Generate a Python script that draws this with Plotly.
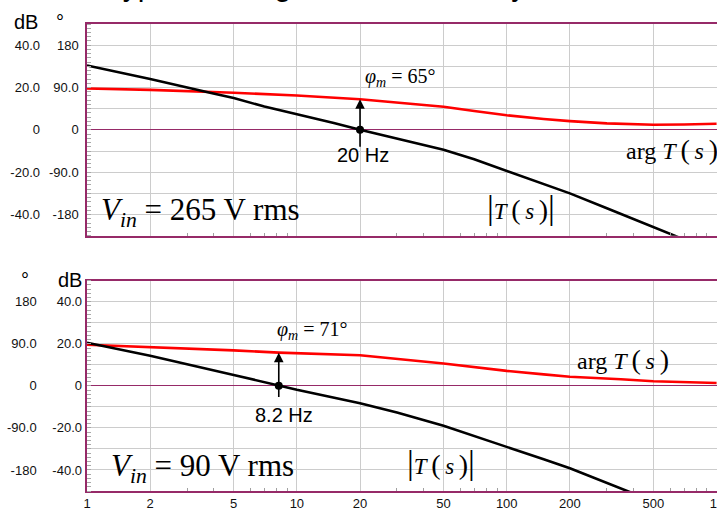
import numpy as np
import plotly.graph_objects as go

# ---- loop gain at high line (265 V rms) ----
f_mag_hi = [1, 2, 4, 5, 7, 10, 15, 20, 30, 50, 70, 100, 150, 200, 300, 500, 700]
mag_hi = [30.4, 24.0, 17.2, 15.0, 11.0, 7.4, 3.2, 0.0, -4.3, -9.4, -13.9, -19.3, -25.5, -30.0, -37.0, -45.9, -51.8]
f_ph_hi = [1, 2, 5, 10, 20, 30, 50, 70, 100, 150, 200, 300, 500, 700, 1000]
ph_hi = [88, 85, 79, 73, 65, 58, 49, 40, 31, 23, 18.5, 13.8, 10.8, 11.5, 13]

# ---- loop gain at low line (90 V rms) ----
f_mag_lo = [1, 2, 5, 8.2, 10, 20, 30, 50, 70, 100, 150, 200, 300, 400]
mag_lo = [20.5, 14.3, 5.2, 0.0, -1.9, -8.3, -12.7, -19.0, -23.8, -28.9, -34.9, -39.2, -46.2, -51.1]
f_ph_lo = [1, 2, 5, 8.2, 20, 50, 70, 100, 150, 200, 350, 500, 1000]
ph_lo = [88, 83, 76, 71, 65.5, 48, 40, 32, 24.5, 19.5, 14, 10, 6]

# crossover frequency (Hz) and phase margin (deg)
fc_hi, pm_hi = 20, 65
fc_lo, pm_lo = 8.2, 71

# axis ticks
x_ticks = [1, 2, 5, 10, 20, 50, 100, 200, 500, 1000]
x_tick_text = ["1", "2", "5", "10", "20", "50", "100", "200", "500", "1k"]
x_minor = [m * d for d in (1, 10, 100) for m in (3, 4, 6, 7, 8, 9)]
db_ticks = [-40, -20, 0, 20, 40]
db_tick_text = ["-40.0", "-20.0", "0", "20.0", "40.0"]
deg_ticks = [-180, -135, -90, -45, 0, 45, 90, 135, 180]
deg_tick_text = ["-180", "", "-90.0", "", "0", "", "90.0", "", "180"]

W, H, L = 717, 512, 87
FRAME = "#962A68"
GRID = "#cccccc"
SANS = "Arial, Liberation Sans, sans-serif"
SERIF = "Times New Roman, Liberation Serif, serif"


def px(x):
    return (x - L) / (W - L)


def py(y):
    return 1 - y / H


fig = go.Figure()

# phase curves (base axes) and magnitude curves (overlay axes)
fig.add_trace(go.Scatter(x=f_ph_hi, y=ph_hi, xaxis="x", yaxis="y", mode="lines",
                         line=dict(color="#ff0000", width=2.6)))
fig.add_trace(go.Scatter(x=f_mag_hi, y=mag_hi, xaxis="x", yaxis="y3", mode="lines",
                         line=dict(color="#000000", width=2.6)))
fig.add_trace(go.Scatter(x=[fc_hi], y=[0], xaxis="x", yaxis="y3", mode="markers",
                         marker=dict(color="#000000", size=8)))
fig.add_trace(go.Scatter(x=f_ph_lo, y=ph_lo, xaxis="x2", yaxis="y2", mode="lines",
                         line=dict(color="#ff0000", width=2.6)))
fig.add_trace(go.Scatter(x=f_mag_lo, y=mag_lo, xaxis="x2", yaxis="y4", mode="lines",
                         line=dict(color="#000000", width=2.6)))
fig.add_trace(go.Scatter(x=[fc_lo], y=[0], xaxis="x2", yaxis="y4", mode="markers",
                         marker=dict(color="#000000", size=8)))

top_dom = [py(235.7), py(24)]
bot_dom = [py(491), py(280.7)]


def xaxis(anchor, labels):
    return dict(domain=[0, 1], anchor=anchor, type="log", range=[0, 3.002],
                tickmode="array", tickvals=x_ticks, ticktext=x_tick_text,
                showticklabels=labels, ticks="", showgrid=True, gridcolor=GRID,
                gridwidth=1, zeroline=False, showline=True, linecolor=FRAME,
                linewidth=1.5, mirror=True, automargin=False,
                ticklabeloverflow="allow",
                tickfont=dict(family=SANS, size=13, color="#111"),
                minor=dict(tickmode="array", tickvals=x_minor, ticks="inside",
                           ticklen=3, tickcolor="#a0a0a0", tickwidth=1,
                           showgrid=False))


def deg_axis(domain, anchor, standoff):
    return dict(domain=domain, anchor=anchor, range=[-225, 225], tickmode="array",
                tickvals=deg_ticks, ticktext=deg_tick_text, ticks="",
                showgrid=True, gridcolor=GRID, gridwidth=1, zeroline=True,
                zerolinecolor=FRAME, zerolinewidth=1.2, showline=True,
                linecolor=FRAME, linewidth=1.5, automargin=False,
                ticklabelstandoff=standoff,
                tickfont=dict(family=SANS, size=13, color="#111"))


def db_axis(over, anchor, standoff):
    return dict(overlaying=over, anchor=anchor, side="left", range=[-50, 50],
                tickmode="array", tickvals=db_ticks, ticktext=db_tick_text,
                ticks="", showgrid=False, zeroline=True, zerolinecolor=FRAME,
                zerolinewidth=1.2, showline=False, automargin=False,
                ticklabelstandoff=standoff,
                tickfont=dict(family=SANS, size=13, color="#111"),
                minor=dict(dtick=2, ticks="inside", ticklen=4, tickwidth=1,
                           tickcolor="#a8a8a8"))


ann = []


def label(text, x, y, size, family=SANS, xanchor="center", yanchor="middle"):
    ann.append(dict(text=text, x=px(x), y=py(y), xref="paper", yref="paper",
                    xanchor=xanchor, yanchor=yanchor, showarrow=False,
                    font=dict(family=family, size=size, color="#000")))


def margin_arrow(xref, yref, fc, pm, tail):
    ann.append(dict(text="", x=np.log10(fc), y=pm, ax=np.log10(fc), ay=tail,
                    xref=xref, yref=yref, axref=xref, ayref=yref, showarrow=True,
                    arrowhead=2, arrowsize=1.2, arrowwidth=1.6, arrowcolor="#000",
                    standoff=0))


# page heading, mostly above the top edge of the page
label("Typical Voltage Control Stability", 104, -14.5, 30, xanchor="left")

# unit labels
label("dB", 25.5, 21.5, 20)
label("°", 60, 21.5, 20)
label("°", 25, 280, 20)
label("dB", 69.5, 280, 20)

# phase-margin arrows and crossover labels
margin_arrow("x", "y", fc_hi, pm_hi, -39)
margin_arrow("x2", "y2", fc_lo, pm_lo, -27)
label(f"{fc_hi:g} Hz", 363, 155, 20)
label(f"{fc_lo:g} Hz", 284, 415, 20)
label(f"<i>φ</i><sub><i>m</i></sub> = {pm_hi}°", 400, 77, 20, SERIF)
label(f"<i>φ</i><sub><i>m</i></sub> = {pm_lo}°", 312, 330, 20, SERIF)

# curve names and operating points
BAR = "<span style='font-size:34px'>|</span>"
PAR_L = "<span style='font-size:28px'>(</span>"
PAR_R = "<span style='font-size:28px'>)</span>"
ARG = f"arg <i>T</i>\u2009{PAR_L}\u2009<i>s</i>\u2009{PAR_R}"
MAG = f"{BAR}<i>T</i>\u2009{PAR_L}\u2009<i>s</i>\u2009{PAR_R}{BAR}"

label("<i>V</i><sub><i>in</i></sub> = 265 V rms", 99, 212, 31, SERIF, xanchor="left")
label("<i>V</i><sub><i>in</i></sub> = 90 V rms", 109, 468, 31, SERIF, xanchor="left")
label(ARG, 672, 149, 24, SERIF)
label(MAG, 521, 207, 23, SERIF)
label(ARG, 623, 359, 24, SERIF)
label(MAG, 441, 462, 23, SERIF)

fig.update_layout(
    width=W, height=H, template="none",
    margin=dict(l=L, r=0, t=0, b=0),
    paper_bgcolor="white", plot_bgcolor="white",
    showlegend=False,
    xaxis=xaxis("y", False),
    xaxis2=xaxis("y2", True),
    yaxis=deg_axis(top_dom, "x", 4),
    yaxis2=deg_axis(bot_dom, "x2", 46),
    yaxis3=db_axis("y", "x", 46),
    yaxis4=db_axis("y2", "x2", 4),
    annotations=ann,
)

fig.write_html("out.html")
